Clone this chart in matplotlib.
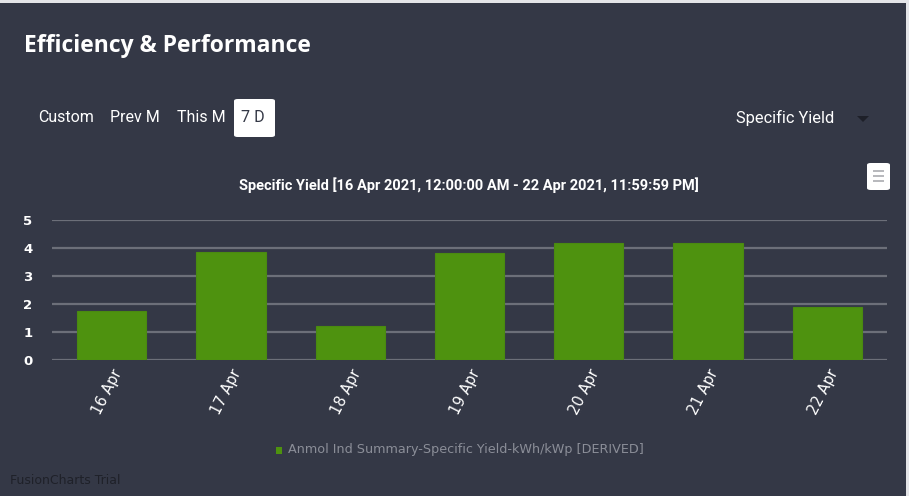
import numpy as np
from matplotlib import pyplot as plt
from matplotlib.patches import FancyBboxPatch, Rectangle, Polygon

# values
days = ["16 Apr", "17 Apr", "18 Apr", "19 Apr", "20 Apr", "21 Apr", "22 Apr"]
yield_vals = [1.74, 3.87, 1.21, 3.81, 4.17, 4.17, 1.90]
y_ticks = [0, 1, 2, 3, 4, 5]
range_buttons = ["Custom", "Prev M", "This M", "7 D"]

bg = "#343846"
bar_color = "#4e920f"
grid_color = "#6c6f79"

W, H = 909, 496
fig = plt.figure(figsize=(W / 100, H / 100), dpi=100)
fig.patch.set_facecolor(bg)


def px(x, y):
    # pixel coords (top-left origin) -> figure fraction
    return x / W, 1 - y / H


# thin light frame like the page around the card
fig.patches.append(Rectangle((0, 1 - 3 / H), 1, 3 / H, transform=fig.transFigure,
                             facecolor="#e4e5e8", edgecolor="none"))
fig.patches.append(Rectangle((1 - 3 / W, 0), 3 / W, 1, transform=fig.transFigure,
                             facecolor="#e4e5e8", edgecolor="none"))

# header
fig.text(*px(24, 46), "Efficiency & Performance", color="white", fontsize=16.5,
         fontfamily="Open Sans", fontweight="bold", va="center", ha="left")

btn_x = [38, 110, 177, 241]
for label, x in zip(range_buttons, btn_x):
    if label == "7 D":
        fig.patches.append(FancyBboxPatch(px(234, 137), 41 / W, 38 / H,
                                          boxstyle="round,pad=0,rounding_size=0.004",
                                          transform=fig.transFigure,
                                          facecolor="white", edgecolor="none"))
        fig.text(*px(241, 118), label, color="#343846", fontsize=11.5,
                 fontfamily="Roboto", va="center", ha="left")
    else:
        fig.text(*px(x, 118), label, color="white", fontsize=11.5,
                 fontfamily="Roboto", va="center", ha="left")

fig.text(*px(736, 118), "Specific Yield", color="white", fontsize=11.8,
         fontfamily="Roboto", va="center", ha="left")
fig.patches.append(Polygon([px(857, 116), px(869, 116), px(863, 122)], closed=True,
                           transform=fig.transFigure, facecolor="#1e2029",
                           edgecolor="none"))

# menu icon
fig.patches.append(FancyBboxPatch(px(867, 190), 23 / W, 27 / H,
                                  boxstyle="round,pad=0,rounding_size=0.004",
                                  transform=fig.transFigure,
                                  facecolor="white", edgecolor="none"))
for yy in [171, 176, 181]:
    fig.patches.append(Rectangle(px(873, yy + 1), 11 / W, 2 / H,
                                 transform=fig.transFigure,
                                 facecolor="#b8b9bd", edgecolor="none"))

# chart caption
fig.text(*px(469, 185), "Specific Yield [16 Apr 2021, 12:00:00 AM - 22 Apr 2021, 11:59:59 PM]",
         color="white", fontsize=10.5, fontfamily="Roboto", fontweight="bold",
         va="center", ha="center")

# main axes
ax = fig.add_axes([52 / W, 1 - 360 / H, 835 / W, 140 / H])
ax.set_facecolor(bg)
x = np.arange(len(days))
ax.bar(x, yield_vals, width=0.58, color=bar_color, edgecolor="#4a8a10",
       linewidth=0.8, zorder=3)
ax.set_xlim(-0.5, len(days) - 0.5)
ax.set_ylim(0, 5)
ax.set_yticks(y_ticks)
ax.set_yticklabels([str(t) for t in y_ticks], color="white", fontsize=9.5,
                   fontweight="bold")
ax.tick_params(axis="y", length=0, pad=14)
ax.set_xticks(x)
ax.set_xticklabels(days, rotation=63, ha="right", va="top", rotation_mode="anchor",
                   color="white", fontsize=10.5)
ax.tick_params(axis="x", length=0, pad=5)
for t in y_ticks:
    ax.axhline(t, color=grid_color, linewidth=1.6, zorder=1)
for s in ax.spines.values():
    s.set_visible(False)

# legend
fig.patches.append(Rectangle(px(276, 454), 6 / W, 7 / H, transform=fig.transFigure,
                             facecolor="#4e920f", edgecolor="none"))
fig.text(*px(288, 450), "Anmol Ind Summary-Specific Yield-kWh/kWp [DERIVED]",
         color="#8b8e98", fontsize=9.2, va="center", ha="left")

fig.text(*px(10, 481), "FusionCharts Trial", color="#1f2129", fontsize=9,
         va="center", ha="left")

fig.savefig("out.png", dpi=100, facecolor=bg)
